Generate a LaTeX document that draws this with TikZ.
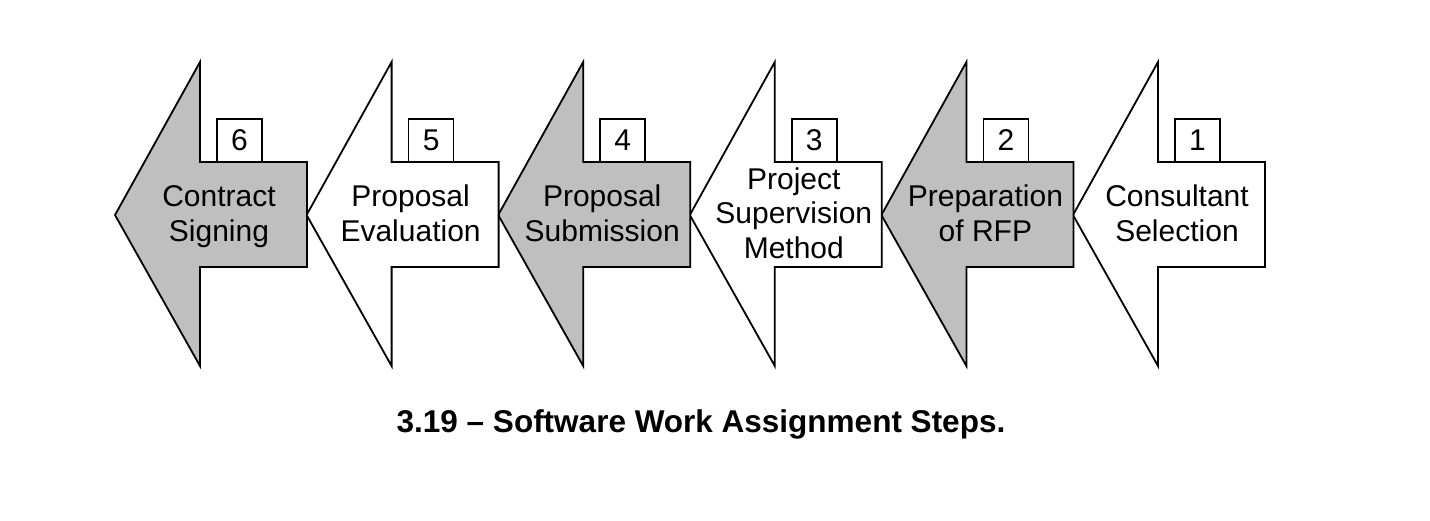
\documentclass[tikz,border=0pt]{standalone}
\usepackage{fontspec}
\setmainfont{Liberation Sans}
\definecolor{stepgray}{HTML}{BFBFBF}
\begin{document}
\begin{tikzpicture}[x=1pt,y=-1pt,
  arrowshape/.style={draw=black, line width=1.8pt, line join=miter},
  numbox/.style={draw=black, line width=1.6pt, fill=white, minimum width=45pt, minimum height=43pt, inner sep=0pt, font=\fontsize{30}{32}\selectfont},
  steptext/.style={align=center, inner sep=0pt, font=\fontsize{30}{34.5}\selectfont},
  captiontext/.style={inner sep=0pt, anchor=base, font=\bfseries\fontsize{31.5}{34}\selectfont}
]
\useasboundingbox[fill=white] (0,0) rectangle (1430,520);
\foreach \t/\fc/\n/\txt in {
  1073/white/1/{\strut Consultant\\Selection\strut},
  881.4/stepgray/2/{\strut Preparation\\of RFP\strut},
  689.8/white/3/{\strut Project\\Supervision\\Method\strut},
  498.2/stepgray/4/{\strut Proposal\\Submission\strut},
  306.6/white/5/{\strut Proposal\\Evaluation\strut},
  115/stepgray/6/{\strut Contract\\Signing\strut}}{
  \path[arrowshape, fill=\fc] (\t,215) -- ({\t+85},62) -- ({\t+85},162) -- ({\t+192},162)
     -- ({\t+192},267) -- ({\t+85},267) -- ({\t+85},366) -- cycle;
  \node[numbox] (num\n) at ({\t+124.5},140.5) {\n};
  \node[steptext] (step\n) at ({\t+104},217) {\txt};
}
\node[captiontext] (caption) at (701,432) {3.19 -- Software Work Assignment Steps.};
\end{tikzpicture}
\end{document}
